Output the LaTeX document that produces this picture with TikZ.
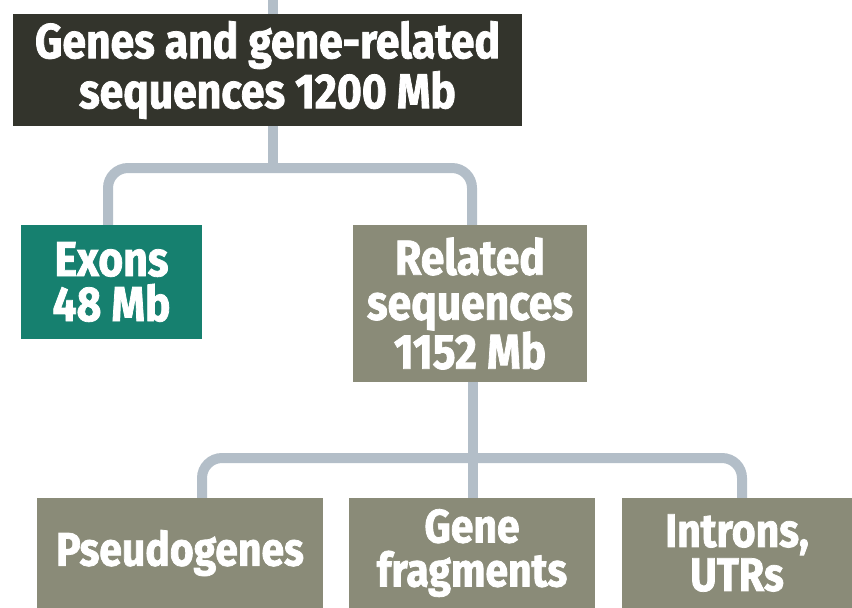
\documentclass[tikz,border=0pt]{standalone}
\usepackage{fontspec}
\setmainfont{Fira Sans}[FakeStretch=0.87, BoldFeatures={FakeBold=1.6}]
\usepackage{tikz}
\usetikzlibrary{positioning}
\definecolor{topdark}{RGB}{51,52,44}
\definecolor{exonteal}{RGB}{22,128,111}
\definecolor{seqolive}{RGB}{138,139,120}
\definecolor{linkgray}{RGB}{179,190,200}
\tikzstyle{box} = [rectangle, inner sep=0pt, text=white, align=center, font=\bfseries\fontsize{49}{45}\selectfont]
\tikzstyle{darkbox} = [box, fill=topdark, font=\bfseries\fontsize{49}{50}\selectfont]
\tikzstyle{tealbox} = [box, fill=exonteal]
\tikzstyle{olivebox} = [box, fill=seqolive]
\tikzstyle{leafbox} = [olivebox, minimum height=110pt, font=\bfseries\fontsize{47}{44}\selectfont]
\tikzstyle{link} = [line width=10pt, draw=linkgray, rounded corners=20pt]

\begin{document}
\begin{tikzpicture}[x=1pt, y=-1pt]
\useasboundingbox (0,0) rectangle (852,608);
% split points of the tree
\coordinate (stem) at (273,0);
\coordinate (split1) at (273,168);
\coordinate (split2) at (473,458);

\node (genes) [darkbox, minimum width=509pt, minimum height=112pt] at (267.5,70) {Genes and gene-related\\sequences 1200 Mb};
\node (exons) [tealbox, minimum width=181pt, minimum height=114pt] at (111.5,282) {Exons\\48 Mb};
\node (related) [olivebox, minimum width=234pt, minimum height=157pt] at (470,303.5) {Related\\sequences\\1152 Mb};
\node (pseudo) [leafbox, minimum width=286pt] at (180,553) {Pseudogenes};
\node (fragments) [leafbox, minimum width=246pt] at (472,553) {Gene\\fragments};
\node (introns) [leafbox, minimum width=230pt] at (737,553) {Introns,\\UTRs};

\draw [link] (stem) -- (stem |- genes.north);
\draw [link] (split1 |- genes.south) -- (split1);
\draw [link] ([xshift=-3.5pt]exons.north) |- (split1) -| ([xshift=2pt]related.north);
\draw [link] (split2 |- related.south) -- (split2 |- fragments.north);
\draw [link] ([xshift=22pt]pseudo.north) |- (split2) -| ([xshift=5pt]introns.north);
\end{tikzpicture}
\end{document}
